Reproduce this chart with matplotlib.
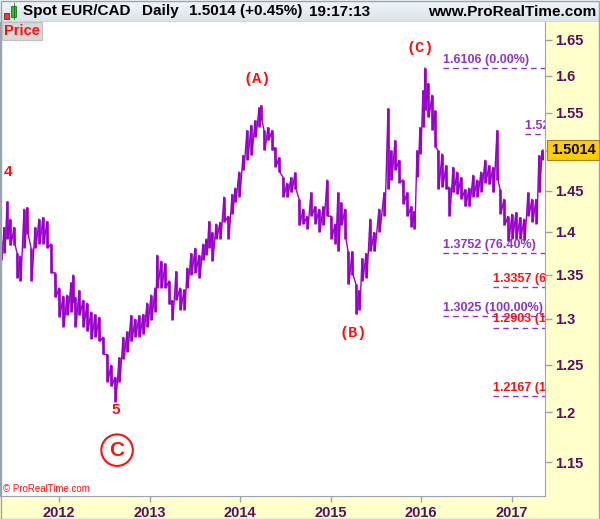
import numpy as np
import matplotlib.pyplot as plt
import matplotlib.transforms as mtransforms
from matplotlib.patches import Rectangle
from matplotlib.ticker import FixedLocator, NullLocator

plt.rcParams['font.family'] = ['Liberation Sans', 'DejaVu Sans']

W, H = 600, 519

# decimal-year sample points, with the high / low seen around each one
dates = [2011.359, 2011.393, 2011.426, 2011.459, 2011.503, 2011.536, 2011.569, 2011.613, 2011.647, 2011.691,
         2011.735, 2011.779, 2011.823, 2011.867, 2011.912, 2011.956, 2012.000, 2012.044, 2012.088, 2012.133,
         2012.155, 2012.177, 2012.221, 2012.265, 2012.309, 2012.353, 2012.398, 2012.442, 2012.486, 2012.530,
         2012.574, 2012.618, 2012.663, 2012.707, 2012.751, 2012.795, 2012.839, 2012.884, 2012.928, 2012.972,
         2013.016, 2013.060, 2013.082, 2013.127, 2013.171, 2013.215, 2013.248, 2013.292, 2013.336, 2013.381,
         2013.414, 2013.458, 2013.502, 2013.546, 2013.590, 2013.624, 2013.657, 2013.690, 2013.734, 2013.778,
         2013.822, 2013.867, 2013.911, 2013.944, 2013.988, 2014.032, 2014.076, 2014.121, 2014.165, 2014.209,
         2014.231, 2014.264, 2014.308, 2014.353, 2014.386, 2014.430, 2014.474, 2014.518, 2014.562, 2014.607,
         2014.651, 2014.695, 2014.739, 2014.783, 2014.827, 2014.872, 2014.916, 2014.960, 2015.004, 2015.048,
         2015.081, 2015.115, 2015.159, 2015.192, 2015.236, 2015.280, 2015.313, 2015.347, 2015.391, 2015.435,
         2015.479, 2015.534, 2015.590, 2015.634, 2015.667, 2015.711, 2015.755, 2015.799, 2015.844, 2015.888,
         2015.921, 2015.954, 2015.987, 2016.020, 2016.042, 2016.076, 2016.120, 2016.153, 2016.186, 2016.230,
         2016.274, 2016.307, 2016.352, 2016.396, 2016.440, 2016.484, 2016.528, 2016.573, 2016.617, 2016.661,
         2016.705, 2016.749, 2016.793, 2016.838, 2016.871, 2016.915, 2016.959, 2017.003, 2017.047, 2017.092,
         2017.136, 2017.180, 2017.224, 2017.268, 2017.301, 2017.335]

highs = [1.389, 1.406, 1.437, 1.416, 1.406, 1.375, 1.372, 1.428, 1.430, 1.381,
         1.406, 1.416, 1.418, 1.413, 1.386, 1.352, 1.335, 1.326, 1.327, 1.341,
         1.350, 1.324, 1.332, 1.321, 1.318, 1.308, 1.305, 1.302, 1.280, 1.261,
         1.250, 1.237, 1.258, 1.280, 1.286, 1.304, 1.300, 1.304, 1.305, 1.318,
         1.327, 1.335, 1.373, 1.366, 1.363, 1.343, 1.321, 1.354, 1.335, 1.333,
         1.358, 1.375, 1.381, 1.373, 1.386, 1.392, 1.413, 1.400, 1.410, 1.412,
         1.443, 1.419, 1.446, 1.454, 1.474, 1.495, 1.527, 1.534, 1.540, 1.557,
         1.560, 1.527, 1.531, 1.527, 1.505, 1.492, 1.467, 1.460, 1.467, 1.473,
         1.440, 1.428, 1.419, 1.448, 1.431, 1.428, 1.431, 1.464, 1.419, 1.410,
         1.448, 1.436, 1.428, 1.377, 1.377, 1.339, 1.332, 1.369, 1.375, 1.416,
         1.400, 1.428, 1.448, 1.556, 1.501, 1.514, 1.489, 1.464, 1.448, 1.431,
         1.425, 1.501, 1.531, 1.580, 1.611, 1.590, 1.574, 1.553, 1.501, 1.497,
         1.482, 1.455, 1.480, 1.474, 1.467, 1.452, 1.454, 1.470, 1.464, 1.474,
         1.489, 1.482, 1.480, 1.527, 1.452, 1.440, 1.419, 1.422, 1.424, 1.418,
         1.416, 1.448, 1.440, 1.440, 1.495, 1.501]

lows = [1.367, 1.375, 1.392, 1.384, 1.385, 1.346, 1.343, 1.381, 1.398, 1.343,
        1.381, 1.386, 1.386, 1.381, 1.352, 1.324, 1.302, 1.291, 1.304, 1.308,
        1.318, 1.291, 1.304, 1.291, 1.286, 1.278, 1.280, 1.275, 1.261, 1.232,
        1.227, 1.211, 1.232, 1.256, 1.264, 1.275, 1.280, 1.280, 1.283, 1.291,
        1.299, 1.308, 1.335, 1.335, 1.335, 1.316, 1.299, 1.321, 1.310, 1.310,
        1.335, 1.350, 1.352, 1.346, 1.367, 1.373, 1.381, 1.366, 1.392, 1.392,
        1.412, 1.392, 1.422, 1.436, 1.443, 1.476, 1.489, 1.495, 1.518, 1.531,
        1.540, 1.501, 1.514, 1.501, 1.480, 1.473, 1.443, 1.443, 1.448, 1.452,
        1.408, 1.410, 1.404, 1.419, 1.410, 1.400, 1.408, 1.419, 1.392, 1.386,
        1.377, 1.408, 1.392, 1.339, 1.350, 1.305, 1.310, 1.343, 1.346, 1.377,
        1.377, 1.400, 1.419, 1.452, 1.464, 1.476, 1.460, 1.434, 1.419, 1.406,
        1.404, 1.467, 1.497, 1.531, 1.553, 1.544, 1.527, 1.505, 1.452, 1.455,
        1.452, 1.419, 1.448, 1.446, 1.440, 1.431, 1.431, 1.443, 1.443, 1.449,
        1.460, 1.458, 1.448, 1.464, 1.422, 1.408, 1.389, 1.392, 1.392, 1.392,
        1.390, 1.419, 1.412, 1.410, 1.448, 1.489]

last_date = 2017.345
last_price = 1.5014

price_ticks = [1.15, 1.2, 1.25, 1.3, 1.35, 1.4, 1.45, 1.5, 1.55, 1.6, 1.65]
year_ticks = [2012, 2013, 2014, 2015, 2016, 2017]

fib_purple_levels = [1.6106, 1.5220, 1.3752, 1.3025]
fib_purple_labels = ['1.6106 (0.00%)', '1.5220 (28.76%)', '1.3752 (76.40%)', '1.3025 (100.00%)']
fib_red_levels = [1.3357, 1.2903, 1.2167]
fib_red_labels = ['1.3357 (61.80%)', '1.2903 (100.00%)', '1.2167 (161.80%)']

LINE = '#9900cc'
FIB_PURPLE = '#8a35cf'
RED = '#ff1010'
AXIS_TXT = '#5a0e5e'
GRID_GREY = '#98a4ae'

fig = plt.figure(figsize=(W / 100, H / 100), dpi=100)
fig.patch.set_facecolor('#ffffcc')

ax = fig.add_axes([0, 23 / H, 545 / W, 474 / H])
ax.set_facecolor('white')
ax.set_yscale('log')
ax.set_ylim(1.1174, 1.6749)
ax.set_xlim(2011.348, 2017.368)

# price line: daily range as thin bars plus a zig-zag between the high and low of every sample
ax.vlines(dates, lows, highs, color=LINE, lw=1.9)
t = np.empty(2 * len(dates))
t[0::2] = dates
t[1::2] = np.array(dates) + 0.011
v = np.empty(2 * len(dates))
v[0::2] = highs
v[1::2] = lows
t = np.append(t, last_date)
v = np.append(v, last_price)
ax.plot(t, v, color=LINE, lw=1.0, solid_joinstyle='miter')

# fibonacci levels, labels clipped at the price panel edge
x_right = ax.get_xlim()[1]
lift = mtransforms.offset_copy(ax.transData, fig=fig, x=0, y=1.5, units='points')
for lvl, lab, x0 in zip(fib_purple_levels, fib_purple_labels, [2016.241, 2017.147, 2016.241, 2016.241]):
    ax.hlines(lvl, x0, x_right, colors=FIB_PURPLE, linestyles=(0, (4, 3)), lw=1)
    ax.text(x0, lvl, lab, transform=lift, color=FIB_PURPLE, fontsize=9, fontweight='bold',
            va='bottom', ha='left', clip_on=True)
for lvl, lab in zip(fib_red_levels, fib_red_labels):
    x0 = 2016.793
    ax.hlines(lvl, x0, x_right, colors=FIB_PURPLE, linestyles=(0, (4, 3)), lw=1)
    ax.text(x0, lvl, lab, transform=lift, color=RED, fontsize=9, fontweight='bold',
            va='bottom', ha='left', clip_on=True)

# wave labels
mono = dict(color=RED, fontweight='bold', family='Liberation Mono', ha='center', va='center')
ax.text(2014.187, 1.595, '(A)', fontsize=11, **mono)
ax.text(2015.247, 1.284, '(B)', fontsize=11, **mono)
ax.text(2015.987, 1.638, '(C)', fontsize=11, **mono)
ax.text(2011.437, 1.474, '4', fontsize=11, color=RED, fontweight='bold', ha='center', va='center')
ax.text(2012.630, 1.203, '5', fontsize=11, color=RED, fontweight='bold', ha='center', va='center')
ax.text(2012.641, 1.162, 'C', fontsize=15, color=RED, fontweight='bold', ha='center', va='center',
        bbox=dict(boxstyle='circle,pad=0.3', fc='white', ec=RED, lw=1.5))

# axes styling
for side in ['left', 'right', 'bottom']:
    ax.spines[side].set_color(GRID_GREY)
ax.spines['top'].set_visible(False)

ax.yaxis.tick_right()
ax.yaxis.set_major_locator(FixedLocator(price_ticks))
ax.yaxis.set_minor_locator(NullLocator())
ax.set_yticklabels([f'{p:g}' for p in price_ticks])
ax.tick_params(axis='y', direction='out', length=5, width=1, color=GRID_GREY,
               labelcolor=AXIS_TXT, labelsize=10.5, pad=2)
ax.set_xticks(year_ticks)
ax.set_xticklabels([str(y) for y in year_ticks])
ax.tick_params(axis='x', direction='out', length=4, width=1, color=GRID_GREY,
               labelcolor=AXIS_TXT, labelsize=10.5, pad=3)
for lbl in ax.get_yticklabels() + ax.get_xticklabels():
    lbl.set_fontweight('bold')

# header bar
axh = fig.add_axes([0, 497 / H, 1, 22 / H])
grad = np.linspace(0, 1, 50).reshape(-1, 1)
axh.imshow(grad, cmap=plt.matplotlib.colors.LinearSegmentedColormap.from_list('h', ['#f2f6f9', '#d9e3ea']),
           extent=[0, W, 22, 0], aspect='auto')
axh.set_xlim(0, W)
axh.set_ylim(22, 0)
axh.axis('off')
axh.axhline(21.5, color=GRID_GREY, lw=1)
axh.add_patch(Rectangle((3.5, 12.5), 5, 6, fc='#e04040', ec='#802020', lw=0.6))
axh.add_patch(Rectangle((11, 5.5), 5, 11, fc='#30c030', ec='#207020', lw=0.6))
axh.plot([13.5, 13.5], [3, 19], color='#207020', lw=0.6)
hdr = dict(fontsize=11, fontweight='bold', va='center', color='black')
axh.text(23, 11.5, 'Spot EUR/CAD', ha='left', **hdr)
axh.text(142, 11.5, 'Daily', ha='left', **hdr)
axh.text(189, 11.5, '1.5014 (+0.45%)', ha='left', **hdr)
axh.text(309, 11.5, '19:17:13', ha='left', **hdr)
axh.text(596, 11.5, 'www.ProRealTime.com', ha='right', **hdr)

# "Price" tag and copyright
fig.text(4 / W, 1 - 31 / H, 'Price', color=RED, fontsize=10.5, fontweight='bold', va='center', ha='left',
         bbox=dict(boxstyle='square,pad=0.15', fc='#d8d8d8', ec='#c0c0c0', lw=0.8))
fig.text(3 / W, 1 - 489 / H, '\u00a9 ProRealTime.com', color=RED, fontsize=7, va='center', ha='left')

# last price box
fig.text(573 / W, 1 - 150 / H, f'{last_price:.4f}', color='black', fontsize=10.5, fontweight='bold',
         va='center', ha='center',
         bbox=dict(boxstyle='square,pad=0.22', fc='#ffcc00', ec='#a08020', lw=0.8))

# outer border
fig.add_artist(Rectangle((0.5 / W, 0.5 / H), 1 - 1.5 / W, 1 - 1.5 / H, transform=fig.transFigure,
                         fill=False, ec=GRID_GREY, lw=1))

fig.savefig('out.png', dpi=100, facecolor=fig.get_facecolor())
